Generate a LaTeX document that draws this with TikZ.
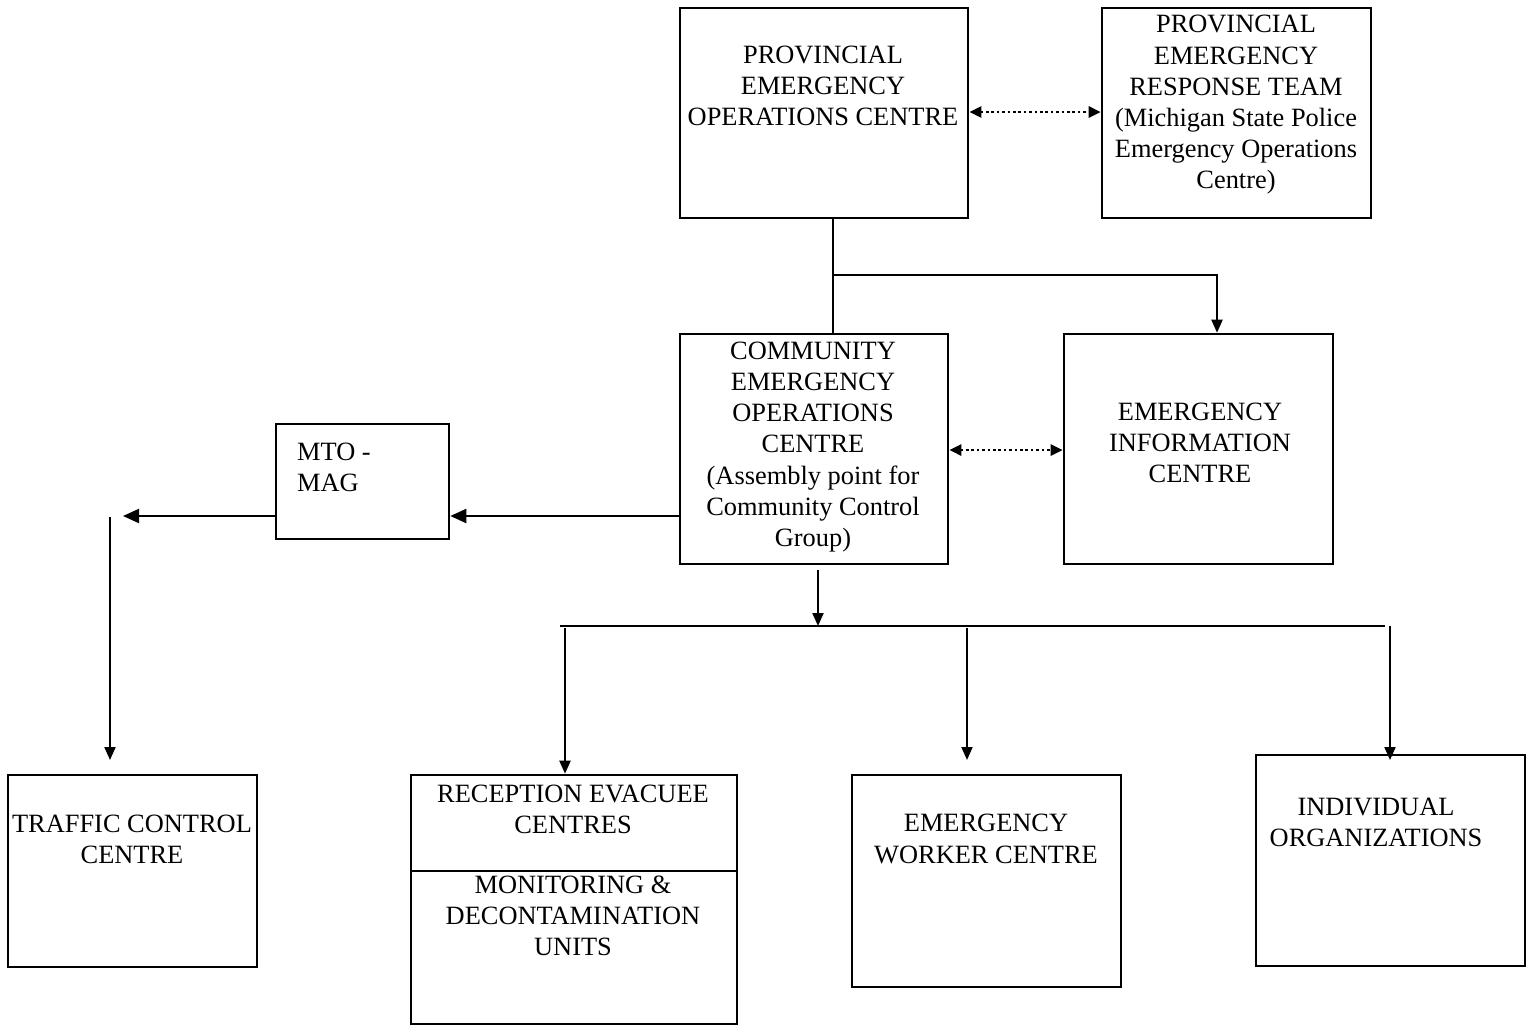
\documentclass[tikz,border=0pt]{standalone}
\usepackage{fontspec}
\setmainfont{Liberation Serif}
\usetikzlibrary{arrows.meta,calc}
\begin{document}
\begin{tikzpicture}[x=1pt,y=-1pt,
  box/.style={draw, line width=2.6pt, inner sep=0pt},
  txt/.style={align=center, inner sep=0pt, font=\fontsize{26.4}{31.2}\selectfont},
  conn/.style={line width=2pt},
  bigtip/.style={-{Triangle[length=16pt,width=14pt]}},
  smalltip/.style={-{Triangle[length=13pt,width=11pt]}},
  dots/.style={line width=2.6pt, dash pattern=on 2.6pt off 2.8pt,
    {Triangle[length=12pt,width=11pt]}-{Triangle[length=12pt,width=11pt]}}]
\useasboundingbox (0,0) rectangle (1533,1026);

% boxes
\node[box, minimum width=288pt, minimum height=210pt] (peoc) at (824,113) {};
\node[box, minimum width=269pt, minimum height=210pt] (pert) at (1236.5,113) {};
\node[box, minimum width=268pt, minimum height=230pt] (ceoc) at (814,449) {};
\node[box, minimum width=269pt, minimum height=230pt] (eic) at (1198.5,449) {};
\node[box, minimum width=173pt, minimum height=115pt] (mto) at (362.5,481.5) {};
\node[box, minimum width=249pt, minimum height=192pt] (tcc) at (132.5,871) {};
\node[box, minimum width=326pt, minimum height=96pt] (rec) at (574,823) {};
\node[box, minimum width=326pt, minimum height=153pt] (mon) at (574,947.5) {};
\node[box, minimum width=269pt, minimum height=212pt] (ewc) at (986.5,881) {};
\node[box, minimum width=269pt, minimum height=211pt] (io) at (1390.5,860.5) {};

% texts
\node[txt] (peoct) at (823,86) {PROVINCIAL\\EMERGENCY\\OPERATIONS CENTRE};
\node[txt] (pertt) at (1236,105) {PROVINCIAL\\EMERGENCY\\RESPONSE TEAM\\(Michigan State Police\\Emergency Operations\\Centre)};
\node[txt] (ceoct) at (813,447) {COMMUNITY\\EMERGENCY\\OPERATIONS\\CENTRE\\(Assembly point for\\Community Control\\Group)};
\node[txt] (eict) at (1200,443) {EMERGENCY\\INFORMATION\\CENTRE};
\node[txt, align=left, anchor=west] (mtot) at (297,467) {MTO -\\MAG};
\node[txt] (tcct) at (132,839) {TRAFFIC CONTROL\\CENTRE};
\node[txt] (rect) at (573,809) {RECEPTION EVACUEE\\CENTRES};
\node[txt] (mont) at (573,916) {MONITORING \&\\DECONTAMINATION\\UNITS};
\node[txt] (ewct) at (986,839) {EMERGENCY\\WORKER CENTRE};
\node[txt] (iot) at (1376,822) {INDIVIDUAL\\ORGANIZATIONS};

% junction points
\coordinate (j1) at (833,275);
\coordinate (j2) at (1217,275);
\coordinate (tcend) at (123,516);
\coordinate (tctop) at (110,517);
\coordinate (tctip) at (110,760);
\coordinate (bus) at (818,626);
\coordinate (busl) at (560,626);
\coordinate (busr) at (1385,626);
\coordinate (d1) at (565,628);
\coordinate (d2) at (967,628);
\coordinate (d3) at (1390,626);
\coordinate (d2tip) at (967,760);
\coordinate (d3tip) at (1390,760);

% connectors
\draw[conn] (peoc.south -| j1) -- (ceoc.north -| j1);
\draw[conn, smalltip] (j1) -- (j2) -- (eic.north -| j2);
\draw[dots] (peoc.east |- 0,112) -- (pert.west |- 0,112);
\draw[dots] (ceoc.east |- 0,450) -- (eic.west |- 0,450);
\draw[conn, bigtip] (ceoc.west |- tcend) -- (mto.east |- tcend);
\draw[conn, bigtip] (mto.west |- tcend) -- (tcend);
\draw[conn, smalltip] (tctop) -- (tctip);
\draw[conn, smalltip] ($(ceoc.south -| bus)+(0,5)$) -- (bus);
\draw[conn] (busl) -- (busr);
\draw[conn, smalltip] (d1) -- (rec.north -| d1);
\draw[conn, smalltip] (d2) -- (d2tip);
\draw[conn, smalltip] (d3) -- (d3tip);
\end{tikzpicture}
\end{document}
